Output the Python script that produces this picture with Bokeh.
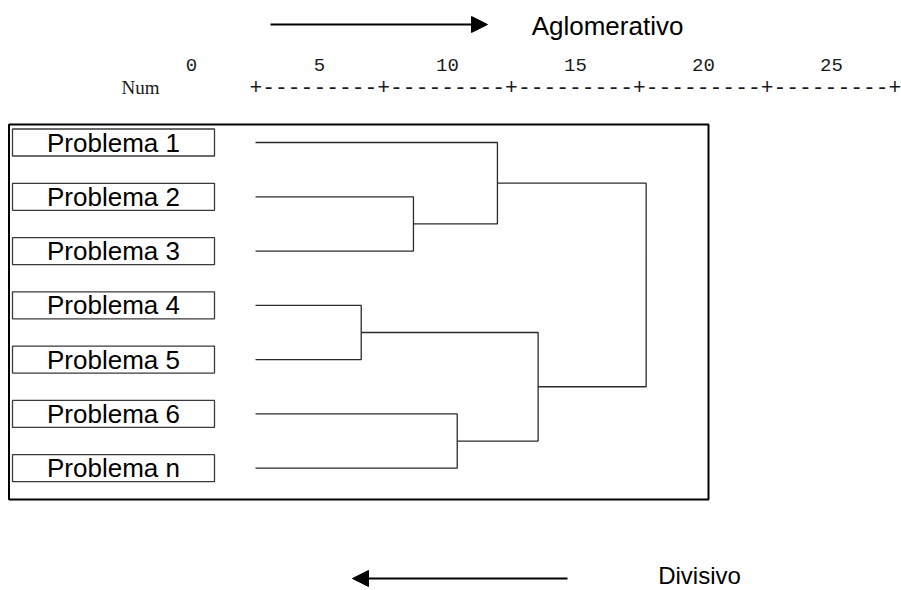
from bokeh.plotting import figure
from bokeh.models import Range1d, Arrow, NormalHead, Label, BoxAnnotation, ColumnDataSource
from bokeh.embed import file_html
from bokeh.resources import INLINE
from bokeh.core.properties import value

# ---------------- data ----------------
leaf_labels = ["Problema 1", "Problema 2", "Problema 3", "Problema 4",
               "Problema 5", "Problema 6", "Problema n"]
# agglomeration schedule (scipy-like): new cluster ids start at len(leaf_labels)
merge_a = [3, 1, 5, 0, 7, 10]
merge_b = [4, 2, 6, 8, 9, 11]
merge_dist = [4.13, 6.17, 7.88, 9.45, 11.04, 15.26]
tick_values = [0, 5, 10, 15, 20, 25]
tick_labels = ["0", "5", "10", "15", "20", "25"]
ruler_text = "+---------+---------+---------+---------+---------+"
top_title = "Aglomerativo"
bottom_title = "Divisivo"
row_header = "Num"

# ---------------- layout helpers (reference pixel -> data units) ----------------
W, H = 901, 590
PX0, PXU = 255.0, 25.6      # distance 0 position and pixels per distance unit
PY0, PYU = 142.0, 54.28     # first leaf row and pixels per row


def dx(px):
    return (px - PX0) / PXU


def dy(py):
    return (py - PY0) / PYU


p = figure(width=W, height=H, output_backend="svg", toolbar_location=None,
           x_range=Range1d(dx(0), dx(W)), y_range=Range1d(dy(H), dy(0)),
           x_axis_type=None, y_axis_type=None, min_border=0)
p.grid.visible = False
p.outline_line_color = None
p.background_fill_color = "white"
p.border_fill_color = "white"

# ---------------- dendrogram ----------------
n = len(leaf_labels)
node_x = [0.0] * n
node_y = [float(i) for i in range(n)]
xs, ys = [], []
for a, b, d in zip(merge_a, merge_b, merge_dist):
    ya, yb = node_y[a], node_y[b]
    xs.append([node_x[a], d, d, node_x[b]])
    ys.append([ya, ya, yb, yb])
    node_x.append(d)
    node_y.append((ya + yb) / 2.0)
p.multi_line(xs=xs, ys=ys, line_color="#2b2b2b", line_width=1.3)

# ---------------- outer frame ----------------
frame = BoxAnnotation(left=dx(8.5), right=dx(708), top=dy(124), bottom=dy(499),
                      fill_color=None, fill_alpha=0, line_color="black",
                      line_alpha=1.0, line_width=2)
p.add_layout(frame)

# ---------------- leaf label boxes ----------------
lab_src = ColumnDataSource(dict(x=[dx(113)] * n, y=list(range(n)), text=leaf_labels))
p.rect(x="x", y="y", width=202, height=27, width_units="screen", height_units="screen",
       source=lab_src, fill_color="white", line_color="#3a3a3a", line_width=1.3)
p.text(x="x", y="y", text="text", source=lab_src, text_font=value("Liberation Sans"),
       text_font_size="26px", text_align="center", text_baseline="middle", text_color="black")

# ---------------- top scale (text ruler) ----------------
p.text(x=[v - 2.5 for v in tick_values], y=[dy(64)] * len(tick_values), text=tick_labels,
       text_font=value("Liberation Mono"), text_font_size="19px", text_align="center",
       text_baseline="middle", text_color="#1a1a1a")
p.text(x=[dx(249)], y=[dy(86)], text=[ruler_text], text_font=value("Liberation Mono"),
       text_font_size="21.3px", text_align="left", text_baseline="middle", text_color="#1a1a1a")
p.text(x=[dx(121)], y=[dy(87)], text=[row_header], text_font=value("Liberation Serif"),
       text_font_size="19px", text_align="left", text_baseline="middle", text_color="#1a1a1a")

# ---------------- direction arrows ----------------
p.add_layout(Arrow(end=NormalHead(size=16, fill_color="black", line_color="black"),
                   x_start=dx(270), y_start=dy(24), x_end=dx(487), y_end=dy(24),
                   line_width=2, line_color="black"))
p.add_layout(Label(x=dx(607), y=dy(25), text=top_title, text_font="Liberation Sans",
                   text_font_size="26px", text_align="center", text_baseline="middle",
                   text_color="black"))
p.add_layout(Arrow(end=NormalHead(size=16, fill_color="black", line_color="black"),
                   x_start=dx(567), y_start=dy(578), x_end=dx(352), y_end=dy(578),
                   line_width=2, line_color="black"))
p.add_layout(Label(x=dx(699), y=dy(575), text=bottom_title, text_font="Liberation Sans",
                   text_font_size="24px", text_align="center", text_baseline="middle",
                   text_color="black"))

open("out.html", "w").write(file_html(p, INLINE))
